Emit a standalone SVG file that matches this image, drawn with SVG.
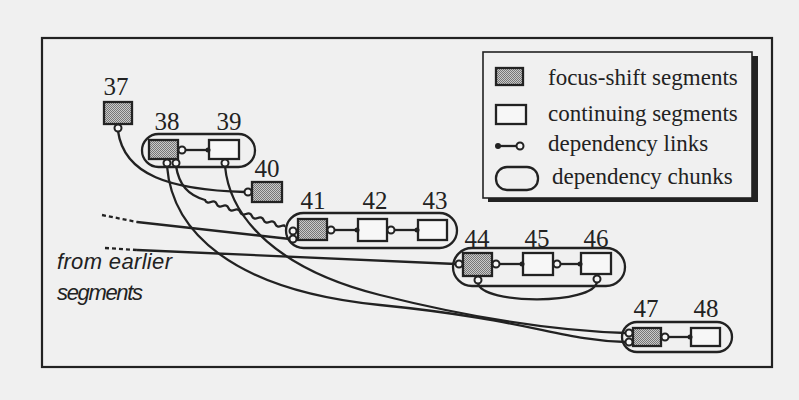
<svg xmlns="http://www.w3.org/2000/svg" width="799" height="400" viewBox="0 0 799 400">
<defs>
<pattern id="stip" width="2" height="2" patternUnits="userSpaceOnUse">
<rect width="2" height="2" fill="#cacaca"/>
<rect width="1" height="1" fill="#767676"/>
<rect x="1" y="1" width="1" height="1" fill="#767676"/>
</pattern>
</defs>
<style>
.num{font-family:"Liberation Serif","Times New Roman",serif;font-size:25px;fill:#222;text-anchor:middle}
.leg{font-family:"Liberation Serif","Times New Roman",serif;font-size:23px;fill:#222}
.it{font-family:"Liberation Sans",Arial,sans-serif;font-style:italic;font-size:22px;fill:#222}
.fs{fill:url(#stip);stroke:#222;stroke-width:2.3}
.cs{fill:#f7f7f7;stroke:#222;stroke-width:2.3}
.chunk{fill:none;stroke:#222;stroke-width:2.3}
.ln{fill:none;stroke:#222;stroke-width:2.3}
.oc{fill:#f7f7f7;stroke:#222;stroke-width:2}
.dot{fill:#222}
</style>
<rect width="799" height="400" fill="#f0f0f0"/>
<rect x="42" y="38" width="730" height="329" fill="none" stroke="#222" stroke-width="2.2"/>

<g id="legend">
<rect x="488" y="56" width="270" height="146" fill="#222"/>
<rect x="483" y="52" width="269" height="146" fill="#f0f0f0" stroke="#222" stroke-width="1.6"/>
<rect x="496" y="68" width="27" height="17" class="fs"/>
<rect x="496" y="105" width="30" height="19" class="cs"/>
<line x1="498" y1="146" x2="516" y2="146" class="ln"/>
<circle cx="498" cy="146" r="3" class="dot"/>
<circle cx="520" cy="146" r="3.5" class="oc"/>
<rect x="496" y="167" width="42" height="23" rx="11" class="chunk"/>
<text x="548" y="85" class="leg">focus-shift segments</text>
<text x="548" y="121" class="leg">continuing segments</text>
<text x="548" y="151" class="leg">dependency links</text>
<text x="552" y="184" class="leg">dependency chunks</text>
</g>

<g id="connectors">
<path class="ln" d="M118,131 C124,175 170,190 245,192"/>
<path class="ln" d="M176,166 C179,185 188,195 205,200 q1.6,3.8 5.86,2 t5.86,2 t5.86,2 t5.86,2 t5.86,2 t5.86,2 t5.86,2 t5.86,2 t5.86,2 t5.86,2 t5.86,2 t5.86,2 t5.86,2 t3,1"/>
<path class="ln" d="M167,166 C172,230 230,290 380,305 S 560,340 626,342"/>
<path class="ln" d="M225,166 C230,220 280,270 380,295 S 560,331 626,333"/>
<path class="ln" d="M102,215 L137,222" stroke-dasharray="4,3"/>
<path class="ln" d="M137,222 L290,239"/>
<path class="ln" d="M105,248 L137,250" stroke-dasharray="4,3"/>
<path class="ln" d="M137,250 L456,264"/>
<path class="ln" d="M478,283 C482,305 593,305 597,282"/>
<line x1="185" y1="150" x2="208" y2="150" class="ln"/>
<line x1="334" y1="230" x2="357" y2="230" class="ln"/>
<line x1="394" y1="230" x2="417" y2="230" class="ln"/>
<line x1="499" y1="264" x2="522" y2="264" class="ln"/>
<line x1="560" y1="264" x2="580" y2="264" class="ln"/>
<line x1="668" y1="337" x2="690" y2="337" class="ln"/>
</g>

<g id="n37"><text x="116" y="95" class="num">37</text><rect x="104" y="102" width="28" height="22" class="fs"/><circle cx="118" cy="128" r="3.5" class="oc"/></g>

<g id="chunk38-39"><rect x="142" y="134" width="113" height="33" rx="16.5" class="chunk"/></g>
<g id="n38"><text x="167" y="130" class="num">38</text><rect x="149" y="140" width="29" height="19" class="fs"/><circle cx="182" cy="150" r="3.5" class="oc"/><circle cx="167" cy="163" r="3.5" class="oc"/><circle cx="176" cy="163" r="3.5" class="oc"/></g>
<g id="n39"><text x="229" y="130" class="num">39</text><rect x="209" y="140" width="30" height="19" class="cs"/><circle cx="208" cy="150" r="2.5" class="dot"/><circle cx="225" cy="163" r="3.5" class="oc"/></g>

<g id="n40"><text x="267" y="177" class="num">40</text><rect x="252" y="182" width="30" height="20" class="fs"/><circle cx="248" cy="192" r="3.5" class="oc"/></g>

<g id="chunk41-43"><rect x="286" y="213" width="171" height="35" rx="17.5" class="chunk"/></g>
<g id="n41"><text x="313" y="209" class="num">41</text><rect x="298" y="219" width="29" height="21" class="fs"/><circle cx="331" cy="230" r="3.5" class="oc"/><circle cx="293" cy="231" r="3.5" class="oc"/><circle cx="293" cy="239" r="3.5" class="oc"/></g>
<g id="n42"><text x="375" y="209" class="num">42</text><rect x="358" y="219" width="29" height="22" class="cs"/><circle cx="357" cy="230" r="2.5" class="dot"/><circle cx="391" cy="230" r="3.5" class="oc"/></g>
<g id="n43"><text x="435" y="209" class="num">43</text><rect x="418" y="220" width="29" height="20" class="cs"/><circle cx="417" cy="230" r="2.5" class="dot"/></g>

<g id="chunk44-46"><rect x="453" y="248" width="172" height="38" rx="19" class="chunk"/></g>
<g id="n44"><text x="477" y="247" class="num">44</text><rect x="463" y="253" width="29" height="23" class="fs"/><circle cx="496" cy="264" r="3.5" class="oc"/><circle cx="459" cy="264" r="3.5" class="oc"/><circle cx="478" cy="280" r="3.5" class="oc"/></g>
<g id="n45"><text x="537" y="247" class="num">45</text><rect x="523" y="253" width="30" height="22" class="cs"/><circle cx="522" cy="264" r="2.5" class="dot"/><circle cx="557" cy="264" r="3.5" class="oc"/></g>
<g id="n46"><text x="596" y="247" class="num">46</text><rect x="581" y="253" width="30" height="21" class="cs"/><circle cx="580" cy="264" r="2.5" class="dot"/><circle cx="597" cy="279" r="3.5" class="oc"/></g>

<g id="chunk47-48"><rect x="622" y="322" width="110" height="30" rx="15" class="chunk"/></g>
<g id="n47"><text x="646" y="317" class="num">47</text><rect x="633" y="328" width="28" height="18" class="fs"/><circle cx="665" cy="337" r="3.5" class="oc"/><circle cx="629" cy="333" r="3.5" class="oc"/><circle cx="629" cy="342" r="3.5" class="oc"/></g>
<g id="n48"><text x="706" y="317" class="num">48</text><rect x="691" y="328" width="29" height="18" class="cs"/><circle cx="690" cy="337" r="2.5" class="dot"/></g>

<g id="caption">
<text x="57" y="269" class="it" textLength="115">from earlier</text>
<text x="57" y="300" class="it" textLength="86">segments</text>
</g>
</svg>
